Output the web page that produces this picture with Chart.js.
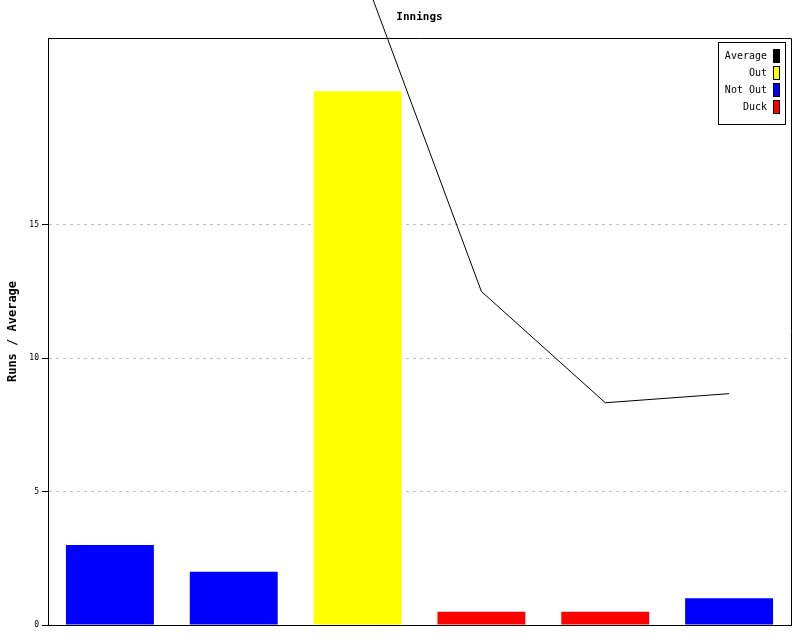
<!DOCTYPE html>
<html>
<head>
<meta charset="utf-8">
<script src="https://cdn.jsdelivr.net/npm/chart.js@4"></script>
<style>
  html, body { margin: 0; padding: 0; background: #fff; }
  #wrap { width: 800px; height: 640px; }
</style>
</head>
<body>
<div id="wrap"><canvas id="inningsChart" width="800" height="640"></canvas></div>
<script>
// innings data
const innings = ['1', '2', '3', '4', '5', '6'];
const runs = [3, 2, 20, 0.5, 0.5, 1];
const results = ['Not Out', 'Not Out', 'Out', 'Duck', 'Duck', 'Not Out'];
const average = [null, null, 25, 12.5, 8.33, 8.67];
const yTicks = [0, 5, 10, 15];

const resultColors = { 'Average': '#000000', 'Out': '#ffff00', 'Not Out': '#0000ff', 'Duck': '#ff0000' };
const legendItems = ['Average', 'Out', 'Not Out', 'Duck'];
const mono = '"DejaVu Sans Mono", "Liberation Mono", monospace';

// title, frame and legend box drawn on top
const extras = {
  id: 'extras',
  afterDraw(chart) {
    const c = chart.ctx, a = chart.chartArea;
    c.save();
    c.strokeStyle = '#000';
    c.lineWidth = 1;
    c.beginPath();
    c.moveTo(a.left, a.top + 0.5); c.lineTo(a.right + 0.5, a.top + 0.5);
    c.lineTo(a.right + 0.5, a.bottom);
    c.stroke();

    c.fillStyle = '#000';
    c.font = 'bold 11px ' + mono;
    c.textAlign = 'center';
    c.textBaseline = 'middle';
    c.fillText('Innings', (a.left + a.right) / 2, 17);

    // legend
    const bx = 718.5, by = 42.5, bw = 67, bh = 82;
    c.fillStyle = '#fff';
    c.fillRect(bx, by, bw, bh);
    c.strokeRect(bx, by, bw, bh);
    c.font = '10px ' + mono;
    c.textAlign = 'right';
    legendItems.forEach((name, i) => {
      const y = 56 + i * 17;
      c.fillStyle = '#000';
      c.fillText(name, 767, y);
      c.fillStyle = resultColors[name];
      c.fillRect(773.5, y - 6.5, 6, 13);
      c.strokeRect(773.5, y - 6.5, 6, 13);
    });
    c.restore();
  }
};

const ctx = document.getElementById('inningsChart').getContext('2d');
const chart = new Chart(ctx, {
  type: 'bar',
  data: {
    labels: innings,
    datasets: [{
      type: 'line',
      label: 'Average',
      data: average,
      borderColor: '#000',
      borderWidth: 1,
      pointRadius: 0,
      tension: 0,
      clip: false,
      order: 0
    }, {
      label: 'Runs',
      data: runs,
      backgroundColor: results.map(r => resultColors[r]),
      borderWidth: 0,
      barPercentage: 0.71,
      categoryPercentage: 1,
      order: 1
    }]
  },
  options: {
    responsive: false,
    animation: false,
    layout: { padding: { top: 38, right: 9, bottom: 15, left: 0 } },
    plugins: {
      legend: { display: false },
      title: { display: false },
      tooltip: { enabled: false }
    },
    scales: {
      x: {
        ticks: { display: false },
        grid: { display: false },
        border: { display: true, color: '#000', width: 1 },
        afterFit(scale) { scale.height = 0; }
      },
      y: {
        min: 0,
        max: 22,
        afterBuildTicks(scale) { scale.ticks = yTicks.map(v => ({ value: v })); },
        afterFit(scale) { scale.width = 48; },
        ticks: {
          color: '#000',
          font: { family: mono, size: 8 },
          padding: 3
        },
        grid: {
          color: ctx => ctx.tick && ctx.tick.value === 0 ? 'rgba(0,0,0,0)' : '#c0c0c0',
          tickColor: '#000',
          tickLength: 6,
          tickBorderDash: []
        },
        border: { display: true, color: '#000', width: 1, dash: [3, 4] },
        title: {
          display: true,
          text: 'Runs / Average',
          color: '#000',
          font: { family: mono, size: 12, weight: 'bold' },
          padding: { top: 6, bottom: 2 }
        }
      }
    }
  },
  plugins: [extras]
});
</script>
</body>
</html>
